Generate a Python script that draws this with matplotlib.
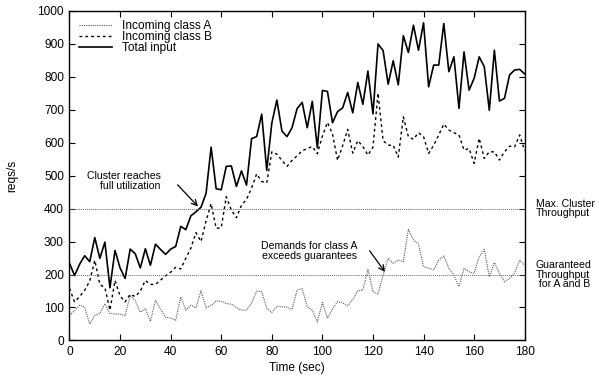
import matplotlib
matplotlib.use('Agg')
import matplotlib.pyplot as plt

# time axis, one sample every 2 s
time = list(range(0, 181, 2))

class_a = [77, 90, 107, 101, 50, 76, 82, 111, 82, 80,
           80, 75, 137, 120, 86, 96, 58, 122, 95, 70,
           68, 61, 132, 92, 107, 99, 151, 99, 106, 120,
           119, 112, 110, 100, 92, 92, 113, 150, 148, 98,
           85, 104, 102, 101, 94, 153, 157, 102, 92, 56,
           115, 68, 95, 118, 114, 105, 124, 151, 153, 216,
           148, 141, 198, 249, 234, 244, 239, 337, 305, 292,
           224, 219, 214, 244, 256, 219, 198, 163, 219, 208,
           204, 254, 276, 193, 236, 204, 178, 188, 204, 244,
           228]

class_b = [158, 117, 133, 152, 180, 243, 170, 160, 92, 182,
           135, 117, 140, 133, 150, 182, 170, 170, 183, 196,
           207, 222, 217, 249, 280, 327, 300, 362, 415, 340,
           342, 436, 395, 372, 410, 428, 462, 505, 482, 478,
           572, 565, 546, 528, 546, 560, 575, 582, 588, 566,
           620, 661, 626, 546, 590, 640, 568, 606, 588, 562,
           586, 750, 606, 592, 592, 556, 678, 618, 610, 630,
           618, 567, 592, 623, 656, 638, 630, 623, 577, 582,
           537, 613, 552, 572, 572, 547, 572, 589, 587, 623,
           575]

total = [234, 197, 231, 257, 239, 312, 249, 298, 160, 273,
         220, 188, 277, 263, 220, 278, 228, 292, 276, 261,
         277, 285, 346, 336, 378, 390, 404, 446, 586, 460,
         457, 528, 529, 467, 514, 471, 612, 618, 686, 516,
         659, 729, 635, 618, 645, 703, 722, 645, 725, 584,
         758, 755, 660, 694, 705, 752, 690, 782, 716, 817,
         687, 899, 879, 777, 848, 775, 924, 873, 956, 880,
         963, 769, 835, 835, 961, 815, 860, 704, 875, 759,
         795, 860, 830, 698, 880, 726, 734, 805, 820, 822,
         808]

max_throughput = 400
guaranteed = 200

plt.rcParams['font.family'] = ['Liberation Sans', 'DejaVu Sans']

fig = plt.figure(figsize=(5.99, 3.80), dpi=100)
ax = fig.add_axes([0.116, 0.104, 0.760, 0.868])

ax.plot(time, class_a, color='0.35', lw=0.8, linestyle=(0, (1, 1)), label='Incoming class A')
ax.plot(time, class_b, color='black', lw=1.0, linestyle=(0, (2, 2.2)), label='Incoming class B')
ax.plot(time, total, color='black', lw=1.2, label='Total input')

ax.axhline(max_throughput, color='0.4', lw=0.7, linestyle=(0, (1, 1)))
ax.axhline(guaranteed, color='0.4', lw=0.7, linestyle=(0, (1, 1)))

ax.set_xlim(0, 180)
ax.set_ylim(0, 1000)
ax.set_xticks(range(0, 181, 20))
ax.set_yticks(range(0, 1001, 100))
ax.tick_params(direction='in', top=True, right=True, length=4, width=0.8, labelsize=8.6, pad=4)
for s in ax.spines.values():
    s.set_linewidth(1.0)

ax.set_xlabel('Time (sec)', fontsize=8.6, labelpad=3)
ax.set_ylabel('reqs/s', fontsize=8.6, labelpad=14)

ax.legend(loc='upper left', frameon=False, fontsize=8.6, handlelength=2.8,
          handletextpad=0.8, labelspacing=-0.1, borderpad=0.3, borderaxespad=0.5)

arrow = dict(arrowstyle='->', lw=0.9, color='black', mutation_scale=10)
ax.text(36, 483, 'Cluster reaches\nfull utilization',
        ha='right', va='center', fontsize=7.6, linespacing=0.95)
ax.annotate('', xy=(51.6, 400), xytext=(42, 478), arrowprops=arrow)

ax.text(95, 272, 'Demands for class A\nexceeds guarantees',
        ha='center', va='center', fontsize=7.6, linespacing=0.95)
ax.annotate('', xy=(125.4, 201), xytext=(118, 279), arrowprops=arrow)

ax.text(1.024, max_throughput, 'Max. Cluster\nThroughput', transform=ax.get_yaxis_transform(),
        ha='left', va='center', fontsize=7.6, linespacing=0.95)
ax.text(1.024, guaranteed, 'Guaranteed\nThroughput\n for A and B', transform=ax.get_yaxis_transform(),
        ha='left', va='center', fontsize=7.6, linespacing=0.95)

fig.savefig('out.png', dpi=100)
